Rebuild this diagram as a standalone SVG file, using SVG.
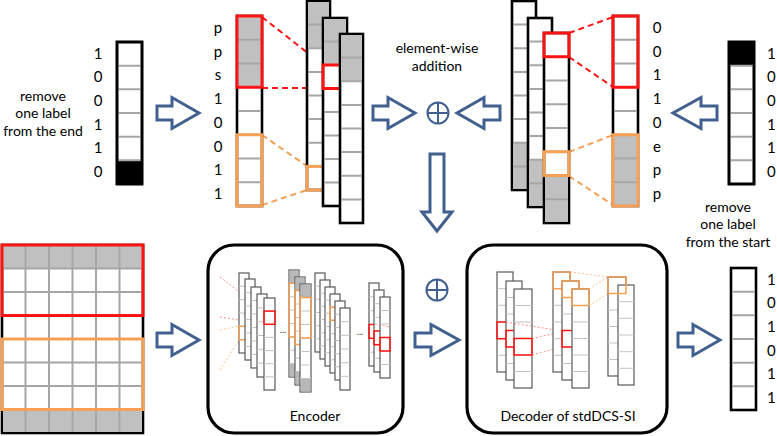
<svg xmlns="http://www.w3.org/2000/svg" width="777" height="436" viewBox="0 0 777 436">
<defs>
<style>
.bar{fill:#fff;stroke:#000;stroke-width:2.6}
.sep{stroke:#a6a6a6;stroke-width:2;fill:none}
.gray{fill:#c0c0c0}
.blk{fill:#000}
.red{fill:none;stroke:#ff1414;stroke-width:3}
.org{fill:none;stroke:#f5a055;stroke-width:3}
.rd{stroke:#ff1414;stroke-width:2;stroke-dasharray:6 4;fill:none}
.od{stroke:#f5a055;stroke-width:2;stroke-dasharray:6 4;fill:none}
.arw{fill:#fff;stroke:#41608f;stroke-width:3;stroke-linejoin:miter}
.plus{fill:none;stroke:#41608f;stroke-width:2}
.t{font-family:Lato,"Open Sans",sans-serif;font-size:15px;fill:#000}
.tc{text-anchor:middle}
.box{fill:#fff;stroke:#000;stroke-width:3.2}
.m{fill:#fff;stroke:#595959;stroke-width:1.2}
.ms{stroke:#c4c4c4;stroke-width:1;fill:none}
.mg{fill:#b8b8b8}
.mr{fill:none;stroke:#ff1414;stroke-width:1.5}
.mo{fill:none;stroke:#f5a055;stroke-width:1.5}
.fr{stroke:#ff6060;stroke-width:1;stroke-dasharray:2 2;fill:none;opacity:.7}
.fo{stroke:#f5b070;stroke-width:1;stroke-dasharray:2 2;fill:none;opacity:.8}
.dots{font-family:Lato,sans-serif;font-size:9px;fill:#333;text-anchor:middle}
</style>
</defs>

<g id="connectors">
<path class="arw" d="M157,106 H172 V97.5 L199,113 L172,128.5 V120 H157 Z"/>
<path class="arw" d="M373,106 H388 V97.5 L415,113 L388,128.5 V120 H373 Z"/>
<path class="arw" d="M500,106 H484 V97.5 L457,113 L484,128.5 V120 H500 Z"/>
<path class="arw" d="M717,106 H701 V97.5 L673,113 L701,128.5 V120 H717 Z"/>
<path class="arw" d="M430,154 V212 H422 L437,231 L452,212 H444 V154 Z"/>
<path class="arw" d="M157,333 H172 V324.5 L199,340 L172,355.5 V347 H157 Z"/>
<path class="arw" d="M415,333 H431 V324.5 L459,340 L431,355.5 V347 H415 Z"/>
<path class="arw" d="M678,333 H693 V324.5 L720,340 L693,355.5 V347 H678 Z"/>
<path class="rd" d="M262,17 L323,65 M262,88 L323,88"/>
<path class="od" d="M262,135 L307,166 M262,205 L307,190"/>
<path class="rd" d="M569,33 L613,17 M569,57 L613,87"/>
<path class="od" d="M569,152 L613,135 M569,176 L613,205"/>
</g>

<g id="label-end">
<text class="t tc" x="43" y="101" style="font-size:14px">remove</text>
<text class="t tc" x="43" y="118" style="font-size:14px">one label</text>
<text class="t tc" x="43" y="136" style="font-size:14px">from the end</text>
<rect class="bar" x="117" y="42" width="25" height="142"/>
<rect class="blk" x="117" y="160.3" width="25" height="23.7"/>
<path class="sep" d="M118,65.7 H141 M118,89.3 H141 M118,113 H141 M118,136.7 H141 M118,160.3 H141"/>
<rect x="117" y="42" width="25" height="142" fill="none" stroke="#000" stroke-width="2.6"/>
<g class="t tc">
<text x="98" y="59">1</text><text x="98" y="82">0</text><text x="98" y="106">0</text>
<text x="98" y="130">1</text><text x="98" y="153">1</text><text x="98" y="177">0</text>
</g>
</g>

<g id="seq-left">
<rect class="bar" x="237" y="16" width="25" height="190"/>
<rect class="gray" x="238" y="17" width="23" height="70.25"/>
<path class="sep" d="M238,39.75 H261 M238,63.5 H261 M238,87.25 H261 M238,111 H261 M238,134.75 H261 M238,158.5 H261 M238,182.25 H261"/>
<rect class="red" x="237" y="16" width="25" height="71.25"/>
<rect class="org" x="237" y="134.75" width="25" height="71.25"/>
<g class="t tc">
<text x="218" y="33">p</text><text x="218" y="57">p</text><text x="218" y="80">s</text>
<text x="218" y="104">1</text><text x="218" y="128">0</text><text x="218" y="152">0</text>
<text x="218" y="175">1</text><text x="218" y="199">1</text>
</g>
</g>

<g id="cols-left">
<rect class="bar" x="307" y="1" width="23" height="189"/>
<rect class="gray" x="308" y="2" width="21" height="46.25"/>
<path class="sep" d="M308,24.6 H329 M308,48.25 H329 M308,71.9 H329 M308,95.5 H329 M308,119.1 H329 M308,142.75 H329 M308,166.4 H329"/>
<rect class="org" x="307" y="166.4" width="23" height="23.6"/>
<rect class="bar" x="323" y="18" width="24" height="188"/>
<rect class="gray" x="324" y="19" width="22" height="46"/>
<path class="sep" d="M324,41.5 H346 M324,65 H346 M324,88.5 H346 M324,112 H346 M324,135.5 H346 M324,159 H346 M324,182.5 H346"/>
<rect class="red" x="323" y="65" width="24" height="23.5"/>
<rect class="bar" x="340" y="34" width="23" height="189"/>
<rect class="gray" x="341" y="35" width="21" height="46.25"/>
<path class="sep" d="M341,57.6 H362 M341,81.25 H362 M341,104.9 H362 M341,128.5 H362 M341,152.1 H362 M341,175.75 H362 M341,199.4 H362"/>
</g>

<g id="plus-top">
<text class="t tc" x="437" y="53" style="font-size:14px">element-wise</text>
<text class="t tc" x="437" y="71" style="font-size:14px">addition</text>
<circle class="plus" cx="438" cy="113" r="10.5"/>
<path class="plus" d="M427.5,113 H448.5 M438,102.5 V123.5"/>
</g>

<g id="cols-right">
<rect class="bar" x="512" y="1" width="24" height="189"/>
<rect class="gray" x="513" y="142.75" width="22" height="46"/>
<path class="sep" d="M513,24.6 H535 M513,48.25 H535 M513,71.9 H535 M513,95.5 H535 M513,119.1 H535 M513,142.75 H535 M513,166.4 H535"/>
<rect class="bar" x="528" y="18" width="24" height="189"/>
<rect class="gray" x="529" y="159.75" width="22" height="46"/>
<path class="sep" d="M529,41.6 H551 M529,65.25 H551 M529,88.9 H551 M529,112.5 H551 M529,136.1 H551 M529,159.75 H551 M529,183.4 H551"/>
<rect class="bar" x="544" y="33" width="25" height="190"/>
<rect class="gray" x="545" y="175.5" width="23" height="46.2"/>
<path class="sep" d="M545,56.75 H568 M545,80.5 H568 M545,104.25 H568 M545,128 H568 M545,151.75 H568 M545,175.5 H568 M545,199.25 H568"/>
<rect class="red" x="544" y="33" width="25" height="23.75"/>
<rect class="org" x="544" y="151.75" width="25" height="23.75"/>
</g>

<g id="seq-right">
<rect class="bar" x="613" y="16" width="25" height="190"/>
<rect class="gray" x="614" y="134.75" width="23" height="70"/>
<path class="sep" d="M614,39.75 H637 M614,63.5 H637 M614,87.25 H637 M614,111 H637 M614,134.75 H637 M614,158.5 H637 M614,182.25 H637"/>
<rect class="red" x="613" y="16" width="25" height="71.25"/>
<rect class="org" x="613" y="134.75" width="25" height="71.25"/>
<g class="t tc">
<text x="657" y="33">0</text><text x="657" y="57">0</text><text x="657" y="80">1</text>
<text x="657" y="104">1</text><text x="657" y="128">0</text><text x="657" y="152">e</text>
<text x="657" y="175">p</text><text x="657" y="199">p</text>
</g>
</g>

<g id="label-start">
<rect class="bar" x="729" y="42" width="25" height="142"/>
<rect class="blk" x="729" y="42" width="25" height="23.7"/>
<path class="sep" d="M730,65.7 H753 M730,89.3 H753 M730,113 H753 M730,136.7 H753 M730,160.3 H753"/>
<rect x="729" y="42" width="25" height="142" fill="none" stroke="#000" stroke-width="2.6"/>
<g class="t">
<text x="767" y="59">1</text><text x="767" y="82">0</text><text x="767" y="106">0</text>
<text x="767" y="130">1</text><text x="767" y="153">1</text><text x="767" y="177">0</text>
</g>
<text class="t tc" x="728" y="212" style="font-size:14px">remove</text>
<text class="t tc" x="728" y="229" style="font-size:14px">one label</text>
<text class="t tc" x="728" y="247" style="font-size:14px">from the start</text>
</g>

<g id="input-grid">
<rect class="bar" x="2" y="245" width="141" height="188"/>
<rect class="gray" x="3" y="246" width="139" height="22.5"/>
<rect class="gray" x="3" y="409.5" width="139" height="22.5"/>
<path class="sep" d="M25.5,246 V432 M49,246 V432 M72.5,246 V432 M96,246 V432 M119.5,246 V432 M3,268.5 H142 M3,292 H142 M3,315.5 H142 M3,339 H142 M3,362.5 H142 M3,386 H142 M3,409.5 H142"/>
<rect class="red" x="2" y="245" width="141" height="70.5"/>
<rect class="org" x="2" y="339" width="141" height="70.5"/>
</g>

<g id="encoder">
<rect class="box" x="208" y="245" width="195" height="188" rx="26"/>
<path class="fr" d="M220,277 L264,311 M220,317 L264,324"/>
<path class="fo" d="M220,330 L239,326 M220,370 L239,340"/>
<rect class="m" x="239" y="273" width="10" height="80"/>
<path class="ms" d="M239,286.3 h10 M239,299.7 h10 M239,313 h10 M239,326.3 h10 M239,339.7 h10"/>
<rect class="mo" x="239" y="326.3" width="10" height="13.4"/>
<rect class="m" x="245" y="279" width="10" height="81"/>
<path class="ms" d="M245,292.5 h10 M245,306 h10 M245,319.5 h10 M245,333 h10 M245,346.5 h10"/>
<rect class="m" x="251" y="287" width="10" height="81"/>
<path class="ms" d="M251,300.5 h10 M251,314 h10 M251,327.5 h10 M251,341 h10 M251,354.5 h10"/>
<rect class="m" x="257" y="294" width="10" height="83"/>
<path class="ms" d="M257,307.8 h10 M257,321.7 h10 M257,335.5 h10 M257,349.3 h10 M257,363.2 h10"/>
<rect class="m" x="264" y="298" width="11" height="92"/>
<path class="ms" d="M264,311.1 h11 M264,324.3 h11 M264,337.4 h11 M264,350.6 h11 M264,363.7 h11 M264,376.9 h11"/>
<rect class="mr" x="264" y="311.1" width="11" height="13.2"/>
<text class="dots" x="283" y="333">...</text>

<rect class="m" x="289" y="270" width="10" height="107"/>
<rect class="mg" x="289.6" y="270.6" width="8.8" height="12.8"/>
<rect class="mg" x="289.6" y="363.6" width="8.8" height="12.8"/>
<path class="ms" d="M289,283.4 h10 M289,296.75 h10 M289,310.1 h10 M289,323.5 h10 M289,336.9 h10 M289,350.25 h10 M289,363.6 h10"/>
<rect class="mo" x="289" y="283.4" width="10" height="53.5"/>
<rect class="m" x="295" y="277" width="10" height="108"/>
<rect class="mg" x="295.6" y="277.6" width="8.8" height="12.9"/>
<rect class="mg" x="295.6" y="371.5" width="8.8" height="12.9"/>
<path class="ms" d="M295,290.5 h10 M295,304 h10 M295,317.5 h10 M295,331 h10 M295,344.5 h10 M295,358 h10 M295,371.5 h10"/>
<rect class="mo" x="295" y="290.5" width="10" height="54"/>
<rect class="m" x="300" y="284" width="11" height="108"/>
<rect class="mg" x="300.6" y="284.6" width="9.8" height="12.9"/>
<rect class="mg" x="300.6" y="378.5" width="9.8" height="12.9"/>
<path class="ms" d="M300,297.5 h11 M300,311 h11 M300,324.5 h11 M300,338 h11 M300,351.5 h11 M300,365 h11 M300,378.5 h11"/>
<rect class="mo" x="300" y="297.5" width="11" height="40.5"/>
<path class="fo" d="M311,298 L330,307 M311,338 L330,320"/>

<rect class="m" x="315" y="273" width="10" height="79"/>
<path class="ms" d="M315,286.2 h10 M315,299.3 h10 M315,312.5 h10 M315,325.7 h10 M315,338.8 h10"/>
<rect class="m" x="320" y="280" width="10" height="79"/>
<path class="ms" d="M320,293.2 h10 M320,306.3 h10 M320,319.5 h10 M320,332.7 h10 M320,345.8 h10"/>
<rect class="m" x="325" y="287" width="10" height="79"/>
<path class="ms" d="M325,300.2 h10 M325,313.3 h10 M325,326.5 h10 M325,339.7 h10 M325,352.8 h10"/>
<rect class="m" x="330" y="294" width="10" height="79"/>
<path class="ms" d="M330,307.2 h10 M330,320.3 h10 M330,333.5 h10 M330,346.7 h10 M330,359.8 h10"/>
<rect class="mo" x="330" y="307.2" width="10" height="13.1"/>
<rect class="m" x="335" y="301" width="10" height="79"/>
<path class="ms" d="M335,314.2 h10 M335,327.3 h10 M335,340.5 h10 M335,353.7 h10 M335,366.8 h10"/>
<rect class="m" x="340" y="308" width="10" height="82"/>
<path class="ms" d="M340,321.7 h10 M340,335.3 h10 M340,349 h10 M340,362.7 h10 M340,376.3 h10"/>
<text class="dots" x="360" y="335">...</text>

<rect class="m" x="369" y="283" width="10" height="83"/>
<path class="ms" d="M369,296.8 h10 M369,310.7 h10 M369,324.5 h10 M369,338.3 h10 M369,352.2 h10"/>
<rect class="mr" x="369" y="324.5" width="10" height="13.8"/>
<rect class="m" x="374" y="290" width="10" height="82"/>
<path class="ms" d="M374,303.7 h10 M374,317.3 h10 M374,331 h10 M374,344.7 h10 M374,358.3 h10"/>
<rect class="mr" x="374" y="331" width="10" height="13.7"/>
<rect class="m" x="380" y="297" width="10" height="81"/>
<path class="ms" d="M380,310.5 h10 M380,324 h10 M380,337.5 h10 M380,351 h10 M380,364.5 h10"/>
<rect class="mr" x="380" y="337.5" width="10" height="13.5"/>
<path class="fr" d="M375,324 L390,327"/>
<text class="t tc" x="315" y="421" style="font-size:14px">Encoder</text>
</g>

<g id="plus-bottom">
<circle class="plus" cx="437" cy="290" r="10.5"/>
<path class="plus" d="M426.5,290 H447.5 M437,279.5 V300.5"/>
</g>

<g id="decoder">
<rect class="box" x="467" y="245" width="200" height="188" rx="26"/>
<rect class="m" x="497" y="272" width="16" height="100"/>
<path class="ms" d="M497,288.7 h16 M497,305.3 h16 M497,322 h16 M497,338.7 h16 M497,355.3 h16"/>
<rect class="mr" x="497" y="322" width="16" height="16.7"/>
<rect class="m" x="506" y="281" width="16" height="99"/>
<path class="ms" d="M506,297.5 h16 M506,314 h16 M506,330.5 h16 M506,347 h16 M506,363.5 h16"/>
<rect class="mr" x="506" y="330.5" width="16" height="16.5"/>
<rect class="m" x="514" y="289" width="18" height="99"/>
<path class="ms" d="M514,305.5 h18 M514,322 h18 M514,338.5 h18 M514,355 h18 M514,371.5 h18"/>
<rect class="mr" x="514" y="338.5" width="18" height="16.5"/>
<path class="fr" d="M506,322 L562,331 M532,339 L562,331 M532,355 L562,347"/>

<rect class="m" x="553" y="272" width="17" height="100"/>
<path class="ms" d="M553,288.7 h17 M553,305.3 h17 M553,322 h17 M553,338.7 h17 M553,355.3 h17"/>
<rect class="mo" x="553" y="272" width="17" height="16.7"/>
<rect class="m" x="562" y="281" width="17" height="99"/>
<path class="ms" d="M562,297.5 h17 M562,314 h17 M562,330.5 h17 M562,347 h17 M562,363.5 h17"/>
<rect class="mo" x="562" y="281" width="17" height="16.5"/>
<rect class="mr" x="562" y="330.5" width="17" height="16.5"/>
<rect class="m" x="572" y="289" width="17" height="99"/>
<path class="ms" d="M572,305.5 h17 M572,322 h17 M572,338.5 h17 M572,355 h17 M572,371.5 h17"/>
<rect class="mo" x="572" y="289" width="17" height="16.5"/>
<path class="fo" d="M570,272 L608,277 M589,305.5 L608,293.5 M589,289 L608,277"/>

<rect class="m" x="608" y="277" width="18" height="99"/>
<path class="ms" d="M608,293.5 h18 M608,310 h18 M608,326.5 h18 M608,343 h18 M608,359.5 h18"/>
<rect class="m" x="618" y="285" width="16" height="100"/>
<path class="ms" d="M618,301.7 h16 M618,318.3 h16 M618,335 h16 M618,351.7 h16 M618,368.3 h16"/>
<rect class="mo" x="608" y="277" width="18" height="16.5"/>
<text class="t tc" x="568" y="421" style="font-size:14px">Decoder of stdDCS-SI</text>
</g>

<g id="output-bar">
<rect class="bar" x="731" y="268" width="25" height="142"/>
<path class="sep" d="M732,291.7 H755 M732,315.3 H755 M732,339 H755 M732,362.7 H755 M732,386.3 H755"/>
<g class="t">
<text x="767" y="285">1</text><text x="767" y="308">0</text><text x="767" y="332">1</text>
<text x="767" y="356">0</text><text x="767" y="379">1</text><text x="767" y="403">1</text>
</g>
</g>
</svg>
